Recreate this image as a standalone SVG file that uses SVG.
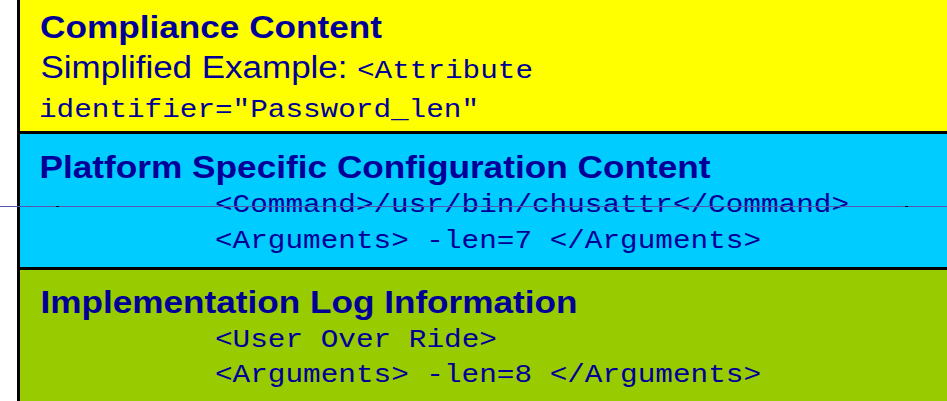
<svg xmlns="http://www.w3.org/2000/svg" width="947" height="401" viewBox="0 0 947 401">
  <style>
    .title { font-family: "Liberation Sans", Arial, sans-serif; font-weight: bold; font-size: 31.5px; fill: #000099; }
    .reg { font-family: "Liberation Sans", Arial, sans-serif; font-size: 31px; fill: #000099; }
    .mono { font-family: "Liberation Mono", "Courier New", monospace; font-size: 26.5px; fill: #000099; }
    .border { stroke: #000000; stroke-width: 3; fill: none; }
    .conn { stroke: #5058b0; stroke-width: 1; fill: none; }
  </style>
  <rect x="0" y="0" width="947" height="401" fill="#ffffff"/>
  <g id="compliance">
    <rect x="18" y="0" width="929" height="132" fill="#ffff00"/>
    <text class="title" x="40" y="38" textLength="342" lengthAdjust="spacingAndGlyphs">Compliance Content</text>
    <text class="reg" x="40.5" y="78" textLength="307" lengthAdjust="spacingAndGlyphs">Simplified Example:</text>
    <text class="mono" x="357" y="78" textLength="176" lengthAdjust="spacingAndGlyphs">&lt;Attribute</text>
    <text class="mono" x="39" y="117" textLength="440" lengthAdjust="spacingAndGlyphs">identifier="Password_len"</text>
  </g>
  <g id="platform">
    <rect x="18" y="132" width="929" height="136" fill="#00ccff"/>
    <text class="title" x="39.5" y="177.5" textLength="671" lengthAdjust="spacingAndGlyphs">Platform Specific Configuration Content</text>
    <text class="mono" x="215" y="211.5" textLength="634" lengthAdjust="spacingAndGlyphs">&lt;Command&gt;/usr/bin/chusattr&lt;/Command&gt;</text>
    <text class="mono" x="215" y="247.5" textLength="546" lengthAdjust="spacingAndGlyphs">&lt;Arguments&gt; -len=7 &lt;/Arguments&gt;</text>
  </g>
  <g id="implementation">
    <rect x="18" y="268" width="929" height="133" fill="#99cc00"/>
    <text class="title" x="40.5" y="313" textLength="537" lengthAdjust="spacingAndGlyphs">Implementation Log Information</text>
    <text class="mono" x="215" y="347" textLength="282" lengthAdjust="spacingAndGlyphs">&lt;User Over Ride&gt;</text>
    <text class="mono" x="215" y="382" textLength="546" lengthAdjust="spacingAndGlyphs">&lt;Arguments&gt; -len=8 &lt;/Arguments&gt;</text>
  </g>
  <g id="borders">
    <line class="border" x1="18.5" y1="0" x2="18.5" y2="401"/>
    <line class="border" x1="17" y1="132.5" x2="947" y2="132.5"/>
    <line class="border" x1="17" y1="268.5" x2="947" y2="268.5"/>
  </g>
  <g id="connectors">
    <line class="conn" x1="0" y1="206.5" x2="947" y2="206.5"/>
    <line x1="56" y1="206.5" x2="59" y2="206.5" stroke="#000000" stroke-width="1"/>
    <line x1="905" y1="206.5" x2="908" y2="206.5" stroke="#000000" stroke-width="1"/>
  </g>
</svg>
